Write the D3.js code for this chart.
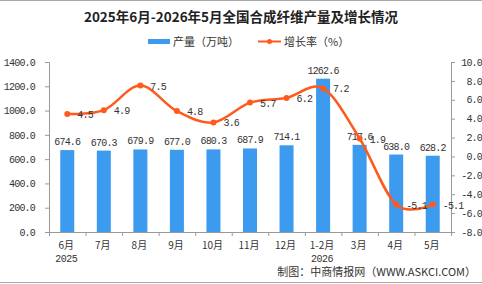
<!DOCTYPE html>
<html><head><meta charset="utf-8">
<script src="https://cdn.jsdelivr.net/npm/d3@7/dist/d3.min.js"></script>
<style>
body{margin:0;background:#fff;}
svg{display:block;}
.cn{font-family:"Noto Sans CJK SC",sans-serif;}
.num{font-family:"Liberation Mono","DejaVu Sans Mono",monospace;}
</style></head>
<body>
<svg id="c" width="482" height="284"></svg>
<script>
const categories = ["6月","7月","8月","9月","10月","11月","12月","1-2月","3月","4月","5月"];
const yearLabels = ["2025","","","","","","","2026","","",""];
const production = [674.6,670.3,679.9,677.0,680.3,687.9,714.1,1262.6,717.6,638.0,628.2];
const growth = [4.5,4.9,7.5,4.8,3.6,5.7,6.2,7.2,1.9,-5.1,-5.1];
const leftTicks = [0,200,400,600,800,1000,1200,1400];
const rightTicks = [-8,-6,-4,-2,0,2,4,6,8,10];
const title = "2025年6月-2026年5月全国合成纤维产量及增长情况";
const seriesNames = ["产量（万吨）","增长率（%）"];
const source = "制图：中商情报网（WWW.ASKCI.COM）";

const W=482,H=284;
const m={l:49,r:451,t:62,b:232};
const svg=d3.select("#c");
const barColor="#3d9bef", lineColor="#ff5a1c", axisColor="#999";

svg.append("line").attr("x1",0).attr("x2",W).attr("y1",0.5).attr("y2",0.5).attr("stroke","#aaa");
svg.append("line").attr("x1",0).attr("x2",W).attr("y1",282.5).attr("y2",282.5).attr("stroke","#aaa");

const x=d3.scaleBand().domain(categories).range([m.l,m.r]).padding(0);
const yL=d3.scaleLinear().domain([0,1400]).range([m.b,m.t]);
const yR=d3.scaleLinear().domain([-8,10]).range([m.b,m.t]);

svg.append("text").attr("class","cn").attr("x",241).attr("y",22).attr("text-anchor","middle")
  .attr("font-size",13.5).attr("font-weight","bold").attr("fill","#222").text(title);

// legend
const lg=svg.append("g");
lg.append("rect").attr("x",148).attr("y",39).attr("width",22).attr("height",5).attr("fill",barColor);
lg.append("text").attr("class","cn").attr("x",173).attr("y",45.5).attr("font-size",11).attr("fill","#333").text(seriesNames[0]);
lg.append("line").attr("x1",258).attr("x2",281).attr("y1",41.5).attr("y2",41.5).attr("stroke",lineColor).attr("stroke-width",2);
lg.append("circle").attr("cx",269.5).attr("cy",41.5).attr("r",2.5).attr("fill",lineColor);
lg.append("text").attr("class","cn").attr("x",284).attr("y",45.5).attr("font-size",11).attr("fill","#333").text(seriesNames[1]);

// axes
const gl=svg.append("g").attr("transform",`translate(${m.l},0)`)
  .call(d3.axisLeft(yL).tickValues(leftTicks).tickSize(4).tickPadding(10).tickFormat(d=>d.toFixed(1)));
const gr=svg.append("g").attr("transform",`translate(${m.r},0)`)
  .call(d3.axisRight(yR).tickValues(rightTicks).tickSize(4).tickPadding(27).tickFormat(d=>d.toFixed(1)));
gr.selectAll("text").attr("text-anchor","end");
[gl,gr].forEach(g=>{
  g.select(".domain").attr("stroke",axisColor);
  g.selectAll(".tick line").attr("stroke",axisColor);
  g.selectAll("text").attr("class","num").attr("font-size",10).attr("letter-spacing",-0.8).attr("fill","#333");
});

// x axis
const gx=svg.append("g");
gx.append("line").attr("x1",m.l).attr("x2",m.r).attr("y1",m.b+0.5).attr("y2",m.b+0.5).attr("stroke",axisColor);
const bounds=categories.map(c=>x(c)).concat([x(categories[categories.length-1])+x.bandwidth()]);
gx.selectAll(".xt").data(bounds).join("line").attr("x1",d=>d+0.5).attr("x2",d=>d+0.5)
  .attr("y1",m.b).attr("y2",m.b+4).attr("stroke",axisColor);
gx.selectAll(".xl").data(categories).join("text").attr("class","cn")
  .attr("x",d=>x(d)+x.bandwidth()/2-1).attr("y",249).attr("text-anchor","middle")
  .attr("font-size",10).attr("fill","#333").text(d=>d);
gx.selectAll(".yl").data(categories).join("text").attr("class","num")
  .attr("x",d=>x(d)+x.bandwidth()/2-1).attr("y",261.5).attr("text-anchor","middle")
  .attr("font-size",10).attr("letter-spacing",-0.5).attr("fill","#333").text((d,i)=>yearLabels[i]);

// bars
const bw=14;
svg.selectAll(".bar").data(production).join("rect")
  .attr("x",(d,i)=>x(categories[i])+x.bandwidth()/2-bw/2)
  .attr("y",d=>yL(d)).attr("width",bw).attr("height",d=>yL(0)-yL(d)).attr("fill",barColor);
svg.selectAll(".bl").data(production).join("text").attr("class","num")
  .attr("x",(d,i)=>x(categories[i])+x.bandwidth()/2).attr("y",d=>yL(d)-5)
  .attr("text-anchor","middle").attr("font-size",10).attr("letter-spacing",-0.8).attr("fill","#333")
  .text(d=>d.toFixed(1));

// line
const pts=growth.map((v,i)=>[x(categories[i])+x.bandwidth()/2,yR(v)]);
svg.append("path").attr("d",d3.line().curve(d3.curveCatmullRom.alpha(0))(pts))
  .attr("fill","none").attr("stroke",lineColor).attr("stroke-width",2.5);
svg.selectAll(".pt").data(pts).join("circle").attr("cx",d=>d[0]).attr("cy",d=>d[1]).attr("r",3).attr("fill",lineColor);
svg.selectAll(".ll").data(growth).join("text").attr("class","num")
  .attr("x",(d,i)=>pts[i][0]+10).attr("y",(d,i)=>pts[i][1]+4)
  .attr("font-size",10).attr("letter-spacing",-0.8).attr("fill","#333").text(d=>d.toFixed(1));

svg.append("text").attr("class","cn").attr("x",476).attr("y",276).attr("text-anchor","end")
  .attr("font-size",11).attr("fill","#333").text(source);
</script>
</body></html>
